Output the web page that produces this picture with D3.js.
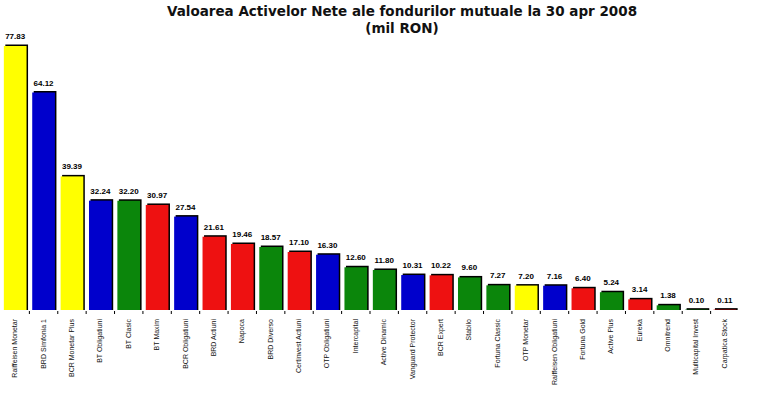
<!DOCTYPE html>
<html><head><meta charset="utf-8">
<script src="https://cdn.jsdelivr.net/npm/d3@7"></script>
<style>body{margin:0;background:#fff}svg{display:block}text{font-family:"Liberation Sans",Arial,sans-serif}</style>
</head><body><svg id="c" width="764" height="405"></svg>
<script>
const titleLines = ["Valoarea Activelor Nete ale fondurilor mutuale la 30 apr 2008", "(mil RON)"];
const funds = ["Raiffeisen Monetar","BRD Simfonia 1","BCR Monetar Plus","BT Obligatiuni","BT Clasic","BT Maxim","BCR Obligatiuni","BRD Actiuni","Napoca","BRD Diverso","Certinvest Actiuni","OTP Obligatiuni","Intercapital","Active Dinamic","Vanguard Protector","BCR Expert","Stabilo","Fortuna Classic","OTP Monetar","Raiffeisen Obligatiuni","Fortuna Gold","Active Plus","Eureka","Omnitrend","Multicapital Invest","Carpatica Stock"];
const values = [77.83,64.12,39.39,32.24,32.20,30.97,27.54,21.61,19.46,18.57,17.10,16.30,12.60,11.80,10.31,10.22,9.60,7.27,7.20,7.16,6.40,5.24,3.14,1.38,0.10,0.11];
const types = ["M","O","M","O","D","A","O","A","A","D","A","O","D","D","O","A","D","D","M","O","A","D","A","D","D","A"];
const typeColors = {M:"#ffff00", O:"#0000cc", D:"#0b860b", A:"#ee1111"};

const svg = d3.select("#c");
const x = d3.scaleBand().domain(funds).range([1, 739]).paddingInner(0.2).paddingOuter(0.1);
const y = d3.scaleLinear().domain([0, 77.83]).range([310, 46]);

svg.append("g").selectAll("text").data(titleLines).join("text")
  .attr("x", 402).attr("y", (d,i)=>16 + i*17)
  .attr("text-anchor","middle").attr("font-size",13.5).attr("font-weight","bold").attr("fill","#111")
  .style("font-family","'DejaVu Sans',sans-serif")
  .text(d=>d);

// shadows
svg.append("g").selectAll("rect").data(funds).join("rect")
  .attr("x", d=>x(d)+1.5).attr("y", (d,i)=>y(values[i])-1.5)
  .attr("width", x.bandwidth()).attr("height", (d,i)=>y(0)-y(values[i])+1.5)
  .attr("fill","#000");
svg.append("g").selectAll("rect").data(funds).join("rect")
  .attr("x", d=>x(d)).attr("y", (d,i)=>y(values[i]))
  .attr("width", x.bandwidth()).attr("height", (d,i)=>y(0)-y(values[i]))
  .attr("fill",(d,i)=>typeColors[types[i]]);

// value labels
svg.append("g").selectAll("text").data(funds).join("text")
  .attr("x", d=>x(d)+x.bandwidth()/2).attr("y",(d,i)=>y(values[i])-7)
  .attr("text-anchor","middle").attr("font-size",8).attr("font-weight","bold").attr("fill","#000")
  .text((d,i)=>values[i].toFixed(2));

// category boundary ticks
const step = x.step();
svg.append("g").selectAll("line").data(funds.slice(1)).join("line")
  .attr("x1", d=>x(d)-step*0.1).attr("x2", d=>x(d)-step*0.1)
  .attr("y1", y(0)+1).attr("y2", y(0)+4).attr("stroke","#000");

// category labels
svg.append("g").selectAll("text").data(funds).join("text")
  .attr("transform", d=>`translate(${x(d)+x.bandwidth()/2+2},319) rotate(-90)`)
  .attr("text-anchor","end").attr("font-size",7).attr("fill","#111")
  .text(d=>d);
</script></body></html>
